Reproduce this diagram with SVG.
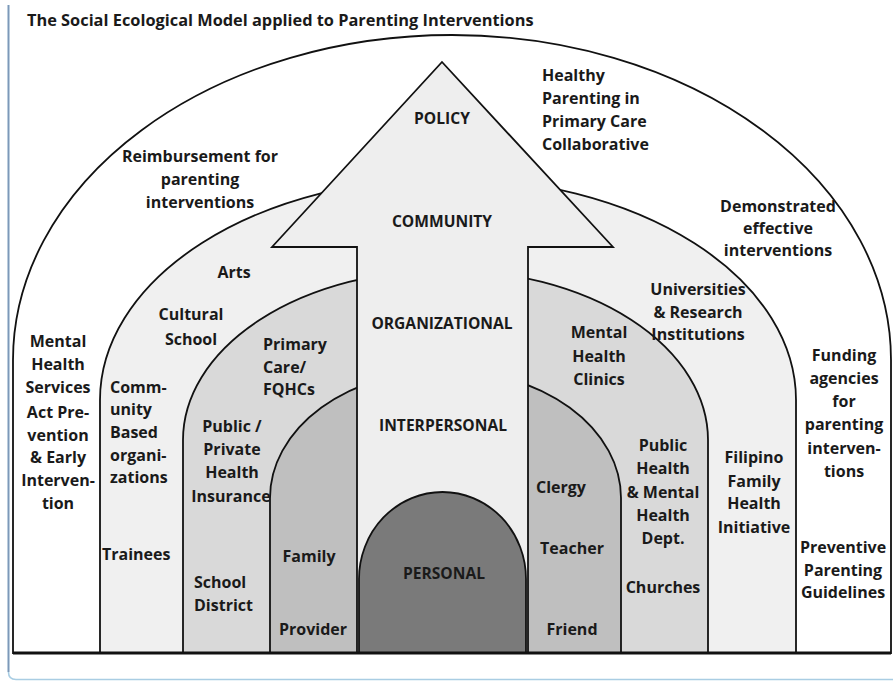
<svg xmlns="http://www.w3.org/2000/svg" width="893" height="681" viewBox="0 0 893 681">
<style>
.sh{stroke:#111;stroke-width:1.8;stroke-linejoin:miter}
.t{font-family:"Open Sans","Liberation Sans",sans-serif;font-weight:700;font-size:16px;fill:#1a1a1a}
.c{text-anchor:middle}
.lv{font-size:15.6px}
.ttl{font-size:16.35px}
</style>
<rect x="0" y="0" width="893" height="681" fill="#ffffff"/>
<g id="frame" fill="none">
<path d="M8.5,5 V672 Q8.5,679.5 16,679.5 H893" stroke="#a9cde3" stroke-width="1.6"/>
<path d="M8.5,5 V672" stroke="#7d98b8" stroke-width="1.8"/>
</g>
<text class="t ttl" x="27" y="26">The Social Ecological Model applied to Parenting Interventions</text>
<g id="policy-arch"><path class="sh" d="M13,653 V360 A439,325 0 0 1 891,360 V653 Z" fill="#ffffff"/></g>
<g id="community-arch"><path class="sh" d="M100,653 V400 A348,222 0 0 1 796,400 V653 Z" fill="#f0f0f0"/></g>
<g id="organizational-arch"><path class="sh" d="M183,653 V440 A262.5,170 0 0 1 708,440 V653 Z" fill="#d9d9d9"/></g>
<g id="interpersonal-arch"><path class="sh" d="M270,653 V498 A175.5,128 0 0 1 621,498 V653 Z" fill="#bfbfbf"/></g>
<g id="arrow"><path class="sh" d="M442,62 L613,247 H528 V653 H357 V247 H272 Z" fill="#eeeeee"/></g>
<g id="personal"><path class="sh" d="M359,653 V579 A83.5,87 0 0 1 526,579 V653 Z" fill="#7a7a7a"/></g>
<g id="connectors"></g>
<line x1="13" y1="653" x2="891" y2="653" stroke="#111" stroke-width="3"/>
<g id="level-labels" class="t c lv">
<text x="442" y="124">POLICY</text>
<text x="442" y="227">COMMUNITY</text>
<text x="442" y="329">ORGANIZATIONAL</text>
<text x="443" y="431">INTERPERSONAL</text>
<text x="444" y="579">PERSONAL</text>
</g>
<g id="policy-labels" class="t">
<text x="542"><tspan x="542" y="81">Healthy</tspan><tspan x="542" y="104">Parenting in</tspan><tspan x="542" y="127">Primary Care</tspan><tspan x="542" y="150">Collaborative</tspan></text>
<text class="c"><tspan x="200" y="162">Reimbursement for</tspan><tspan x="200" y="185">parenting</tspan><tspan x="200" y="208">interventions</tspan></text>
<text class="c"><tspan x="778" y="212">Demonstrated</tspan><tspan x="778" y="234">effective</tspan><tspan x="778" y="256">interventions</tspan></text>
<text class="c"><tspan x="58" y="347">Mental</tspan><tspan x="58" y="370">Health</tspan><tspan x="58" y="393">Services</tspan><tspan x="58" y="418">Act Pre-</tspan><tspan x="58" y="441">vention</tspan><tspan x="58" y="463">&amp; Early</tspan><tspan x="58" y="486">Interven-</tspan><tspan x="58" y="509">tion</tspan></text>
<text class="c"><tspan x="844" y="361">Funding</tspan><tspan x="844" y="384">agencies</tspan><tspan x="844" y="407">for</tspan><tspan x="844" y="430">parenting</tspan><tspan x="844" y="454">interven-</tspan><tspan x="844" y="477">tions</tspan></text>
<text class="c"><tspan x="843" y="553">Preventive</tspan><tspan x="843" y="576">Parenting</tspan><tspan x="843" y="598">Guidelines</tspan></text>
</g>
<g id="community-labels" class="t">
<text class="c" x="234" y="278">Arts</text>
<text class="c"><tspan x="191" y="320">Cultural</tspan><tspan x="191" y="345">School</tspan></text>
<text><tspan x="110" y="393">Comm-</tspan><tspan x="110" y="415">unity</tspan><tspan x="110" y="438">Based</tspan><tspan x="110" y="461">organi-</tspan><tspan x="110" y="483">zations</tspan></text>
<text x="102" y="560">Trainees</text>
<text class="c"><tspan x="698" y="295">Universities</tspan><tspan x="698" y="318">&amp; Research</tspan><tspan x="698" y="340">Institutions</tspan></text>
<text class="c"><tspan x="754" y="463">Filipino</tspan><tspan x="754" y="487">Family</tspan><tspan x="754" y="509">Health</tspan><tspan x="754" y="533">Initiative</tspan></text>
</g>
<g id="organizational-labels" class="t">
<text><tspan x="263" y="350">Primary</tspan><tspan x="263" y="373">Care/</tspan><tspan x="263" y="395">FQHCs</tspan></text>
<text class="c"><tspan x="232" y="432">Public /</tspan><tspan x="232" y="455">Private</tspan><tspan x="232" y="478">Health</tspan><tspan x="231" y="502">Insurance</tspan></text>
<text><tspan x="194" y="588">School</tspan><tspan x="194" y="611">District</tspan></text>
<text class="c"><tspan x="599" y="338">Mental</tspan><tspan x="599" y="362">Health</tspan><tspan x="599" y="385">Clinics</tspan></text>
<text class="c"><tspan x="663" y="451">Public</tspan><tspan x="663" y="474">Health</tspan><tspan x="663" y="498">&amp; Mental</tspan><tspan x="663" y="521">Health</tspan><tspan x="663" y="544">Dept.</tspan></text>
<text class="c" x="663" y="593">Churches</text>
</g>
<g id="interpersonal-labels" class="t c">
<text x="309" y="562">Family</text>
<text x="313" y="635">Provider</text>
<text x="561" y="493">Clergy</text>
<text x="572" y="554">Teacher</text>
<text x="572" y="635">Friend</text>
</g>
</svg>
